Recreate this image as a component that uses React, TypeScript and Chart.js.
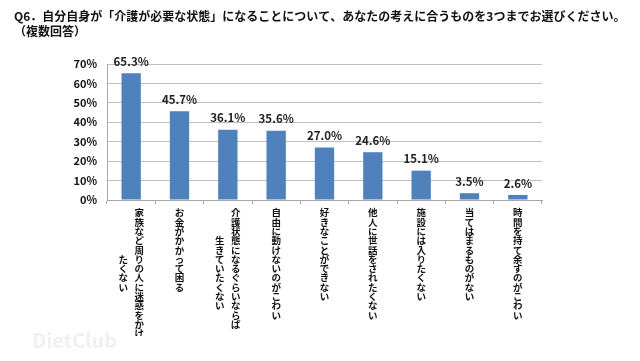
import React, { useEffect, useRef } from "react";
import { Chart, registerables } from "chart.js";

Chart.register(...registerables);

const titleLines = [
  "Q6．自分自身が「介護が必要な状態」になることについて、あなたの考えに合うものを3つまでお選びください。",
  "（複数回答）",
];
const mainColumns = [
  "家族など周りの人に迷惑をかけ",
  "お金がかかって困る",
  "介護状態になるぐらいならば",
  "自由に動けないのがこわい",
  "好きなことができない",
  "他人に世話をされたくない",
  "施設には入りたくない",
  "当てはまるものがない",
  "時間を持て余すのがこわい",
];
const secondColumns = ["たくない", "", "生きていたくない", "", "", "", "", "", ""];
const values = [65.3, 45.7, 36.1, 35.6, 27.0, 24.6, 15.1, 3.5, 2.6];
const yTicks = [0, 10, 20, 30, 40, 50, 60, 70];

const FONT = "'Noto Sans CJK JP', 'Noto Sans', sans-serif";

function verticalLines(main: string, second: string): string[] {
  const a = Array.from(main);
  const b = Array.from(second);
  if (b.length === 0) return a;
  const off = Math.round((a.length - b.length) / 2);
  return a.map((ch, i) => {
    const j = i - off;
    const c2 = j >= 0 && j < b.length ? b[j] : "\u3000";
    return c2 + "   " + ch;
  });
}

const titlePlugin = {
  id: "customTitle",
  afterDraw(chart: any) {
    const ctx = chart.ctx;
    ctx.save();
    ctx.font = `bold 12px ${FONT}`;
    ctx.fillStyle = "#111111";
    ctx.textAlign = "left";
    ctx.textBaseline = "middle";
    const target = 610;
    titleLines.forEach((t, i) => {
      const chars = Array.from(t);
      const w = ctx.measureText(t).width;
      const extra = i === 0 ? Math.max(0, (target - w) / (chars.length - 1)) : 0;
      let x = 14;
      chars.forEach((ch) => {
        ctx.fillText(ch, x, 16 + i * 15);
        x += ctx.measureText(ch).width + extra;
      });
    });
    ctx.restore();
  },
};

const dataLabelPlugin = {
  id: "dataLabels",
  afterDatasetsDraw(chart: any) {
    const ctx = chart.ctx;
    const meta = chart.getDatasetMeta(0);
    ctx.save();
    ctx.font = `bold 11.5px ${FONT}`;
    ctx.fillStyle = "#222222";
    ctx.textAlign = "center";
    ctx.textBaseline = "bottom";
    meta.data.forEach((bar: any, i: number) => {
      ctx.fillText(values[i].toFixed(1) + "%", bar.x, bar.y - 6);
    });
    ctx.restore();
  },
};

const watermarkPlugin = {
  id: "watermark",
  afterDraw(chart: any) {
    const ctx = chart.ctx;
    ctx.save();
    ctx.font = `bold 20px ${FONT}`;
    ctx.fillStyle = "#f0f0f0";
    ctx.textAlign = "left";
    ctx.textBaseline = "middle";
    ctx.fillText("DietClub", 32, 340);
    ctx.restore();
  },
};

export default function App() {
  const ref = useRef<HTMLCanvasElement>(null);
  useEffect(() => {
    if (!ref.current) return;
    const labels = mainColumns.map((m, i) => verticalLines(m, secondColumns[i]));
    const chart = new Chart(ref.current, {
      type: "bar",
      data: {
        labels,
        datasets: [
          {
            data: values,
            backgroundColor: "#4F81BD",
            borderWidth: 0,
            categoryPercentage: 1,
            barPercentage: 0.4,
          },
        ],
      },
      options: {
        animation: false,
        responsive: true,
        maintainAspectRatio: false,
        layout: { padding: { left: 15, right: 98, top: 64, bottom: 25 } },
        plugins: {
          legend: { display: false },
          tooltip: { enabled: false },
          title: { display: false },
        },
        scales: {
          x: {
            grid: {
              display: true,
              offset: true,
              drawOnChartArea: false,
              drawTicks: true,
              tickLength: 4,
              color: "#a6a6a6",
            },
            border: { display: true, color: "#a6a6a6" },
            ticks: {
              autoSkip: false,
              maxRotation: 0,
              minRotation: 0,
              padding: 4,
              color: "#111111",
              font: { family: FONT, size: 9.5, weight: "bold", lineHeight: 0.98 },
            },
          },
          y: {
            min: 0,
            max: 70,
            afterFit: (s: any) => {
              s.width = 92;
            },
            afterBuildTicks: (s: any) => {
              s.ticks = yTicks.map((v) => ({ value: v }));
            },
            grid: { color: "#bfbfbf", drawTicks: false, lineWidth: 1 },
            border: { display: true, color: "#a6a6a6" },
            ticks: {
              padding: 10,
              color: "#111111",
              font: { family: FONT, size: 11, weight: "bold" },
              callback: (v: any) => v + "%",
            },
          },
        },
      },
      plugins: [dataLabelPlugin, titlePlugin, watermarkPlugin],
    });
    return () => chart.destroy();
  }, []);
  return (
    <div style={{ position: "fixed", left: 0, top: 0, width: 640, height: 361, background: "#fff" }}>
      <canvas ref={ref} />
    </div>
  );
}
